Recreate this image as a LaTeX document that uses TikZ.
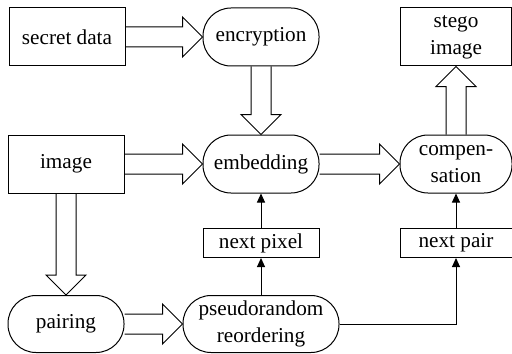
\documentclass[tikz,border=0pt]{standalone}
\usepackage{fontspec}
\setmainfont{Liberation Serif}
\usetikzlibrary{calc,arrows.meta}

\tikzset{box/.style={draw,line width=0.5pt,minimum width=58pt,minimum height=29pt,align=center,inner sep=1pt},
 stage/.style={box,rounded corners=14pt},
 small/.style={box,minimum height=14.5pt},
 thin/.style={line width=0.5pt,-{Triangle[length=4.5pt,width=4pt]}}}

% hollow block arrows
\newcommand{\fatright}[2]{%
\draw[line width=0.5pt] ($(#1.east)+(0,5pt)$) -- ($(#2.west)+(-10pt,5pt)$) -- ++(0,5pt) -- (#2.west) -- ++(-10pt,-10pt) -- ++(0,5pt) -- ($(#1.east)+(0,-5pt)$);}
\newcommand{\fatdown}[2]{%
\draw[line width=0.5pt] ($(#1.south)+(-5pt,0)$) -- ($(#2.north)+(-5pt,10pt)$) -- ++(-5pt,0) -- (#2.north) -- ++(10pt,10pt) -- ++(-5pt,0) -- ($(#1.south)+(5pt,0)$);}
\newcommand{\fatup}[2]{%
\draw[line width=0.5pt] ($(#1.north)+(-5pt,0)$) -- ($(#2.south)+(-5pt,-10pt)$) -- ++(-5pt,0) -- (#2.south) -- ++(10pt,-10pt) -- ++(-5pt,0) -- ($(#1.north)+(5pt,0)$);}

\begin{document}
\begin{tikzpicture}[x=0.5pt,y=-0.5pt,font=\fontsize{10.6}{13.5}\selectfont]
\useasboundingbox (0,0) rectangle (512,353);
\node[box] (secret) at (67,37) {secret data};
\node[stage] (encryption) at (261,37) {encryption};
\node[box,minimum width=55.5pt] (stego) at (456,37) {stego\\image};
\node[box] (image) at (66,164) {image};
\node[stage] (embedding) at (261,164) {embedding};
\node[stage,minimum width=56pt] (compensation) at (456,164) {compen-\\sation};
\node[small] (nextpixel) at (261,243) {next pixel};
\node[small,minimum width=56pt] (nextpair) at (456,243) {next pair};
\node[stage,minimum height=28.5pt] (pairing) at (66,324) {pairing};
\node[stage,minimum width=78pt,minimum height=28.5pt] (pseudo) at (261,324) {pseudorandom\\reordering};

\fatright{secret}{encryption}
\fatright{image}{embedding}
\fatright{embedding}{compensation}
\fatright{pairing}{pseudo}
\fatdown{encryption}{embedding}
\fatdown{image}{pairing}
\fatup{compensation}{stego}

\draw[thin] (nextpixel.north) -- (embedding.south);
\draw[thin] (nextpair.north) -- (compensation.south);
\draw[thin] (pseudo.north) -- (nextpixel.south);
\draw[thin] (pseudo.east) -| (nextpair.south);
\end{tikzpicture}
\end{document}
